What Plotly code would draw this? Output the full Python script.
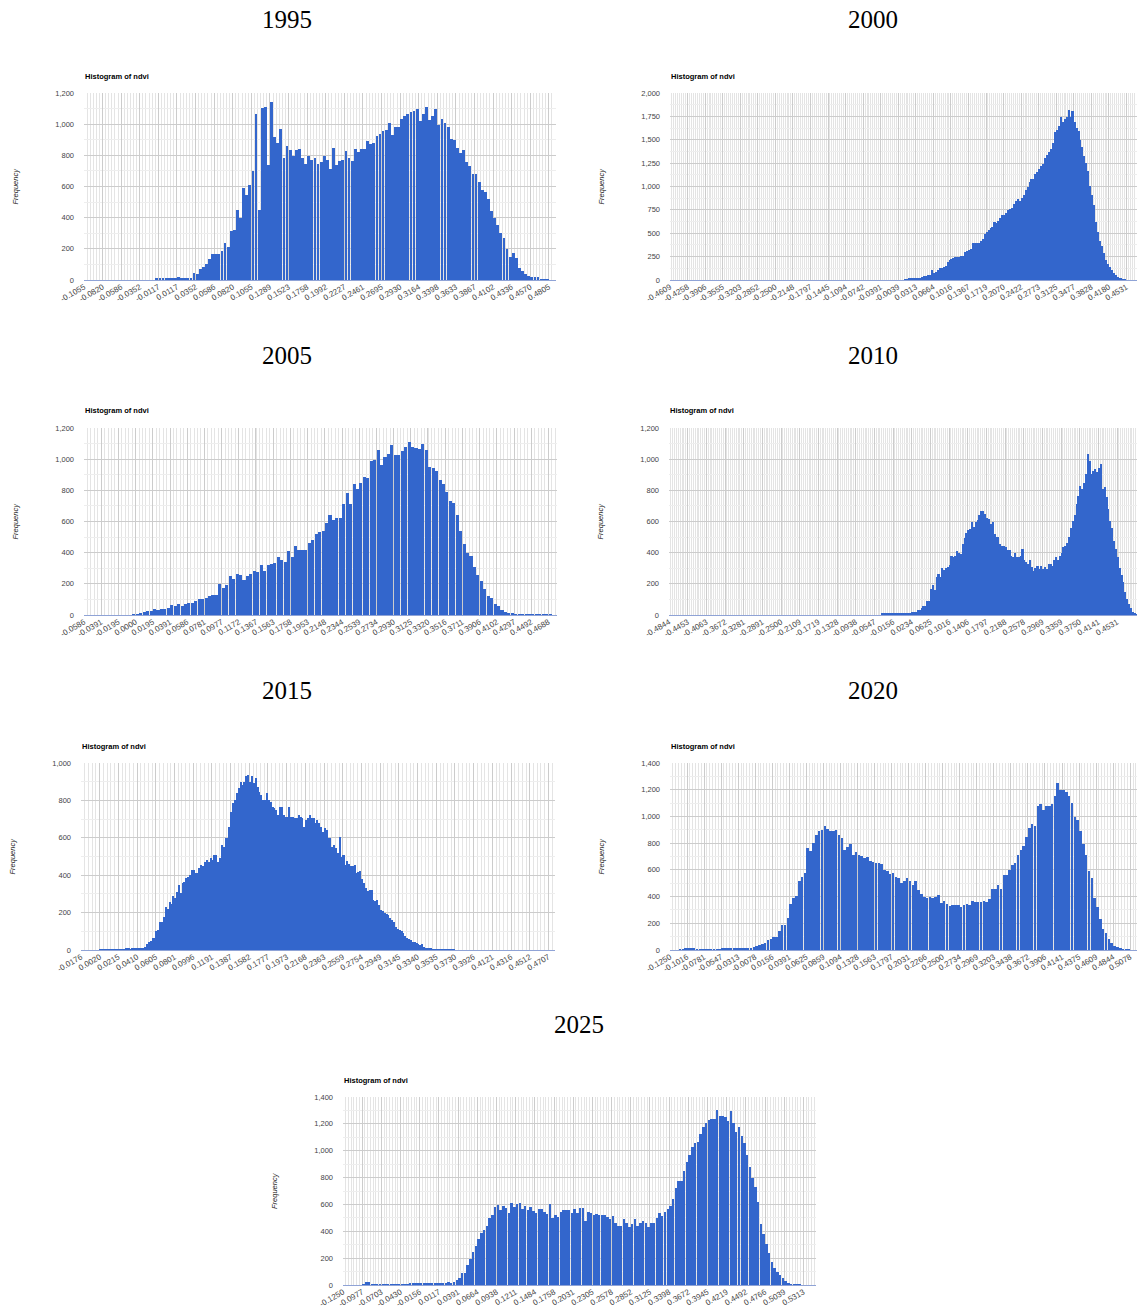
import numpy as np
import plotly.graph_objects as go

W, H = 1137, 1309

# ---------------- NDVI histograms (counts per bucket) ----------------
# Each series: left edge of its first listed bucket, bucket width, counts.

bin_width_1995 = 1 / 256
first_edge_1995 = -4 / 256
counts_1995 = [
    10, 12, 12, 11, 12, 8, 9, 18, 8, 16, 13, 15,
    45, 40, 70, 85, 100, 135, 165, 170, 165, 185,
    235, 210, 315, 320, 450, 400, 590, 545, 610, 700,
    1065, 450, 1105, 1110, 740, 1140, 920, 880, 970, 780,
    860, 835, 795, 835, 840, 780, 745, 795, 770, 780,
    745, 755, 795, 770, 715, 850, 740, 765, 770, 830,
    780, 765, 840, 820, 840, 840, 890, 870, 880, 925,
    940, 955, 960, 1005, 930, 985, 985, 1030, 1050, 1065,
    1075, 1085, 1100, 1020, 1065, 1110, 1025, 1055, 1100, 995,
    1030, 1010, 985, 905, 900, 845, 815, 835, 760, 730,
    680, 680, 630, 580, 565, 520, 440, 400, 350, 300,
    270, 200, 150, 175, 140, 75, 55, 40, 28, 20,
    18, 17, 5, 4, 2,
]
labels_1995 = ["-0.1055", "-0.0820", "-0.0586", "-0.0352", "-0.0117", "0.0117", "0.0352",
               "0.0586", "0.0820", "0.1055", "0.1289", "0.1523", "0.1758", "0.1992",
               "0.2227", "0.2461", "0.2695", "0.2930", "0.3164", "0.3398", "0.3633",
               "0.3867", "0.4102", "0.4336", "0.4570", "0.4805"]

bin_width_2000 = 1 / 256
first_edge_2000 = 2 / 256
counts_2000 = [
    8, 10, 12, 14, 14, 15, 16, 18, 22, 30, 38, 45, 50, 58, 105, 70, 90, 110, 125, 130,
    140, 155, 195, 210, 220, 240, 245, 248,
    250, 255, 260, 300, 315, 320, 330, 400, 395, 400, 395, 420, 440, 490, 510,
    530, 560, 570, 620, 610, 635, 660, 690, 690, 720, 745, 760, 770, 815, 840,
    870, 850, 880, 905, 960, 990, 1045, 1075, 1080, 1135, 1150, 1190, 1220, 1245,
    1300, 1340, 1370, 1400, 1460, 1580, 1600, 1650, 1745, 1690, 1725, 1740, 1820,
    1745, 1810, 1690, 1630, 1590, 1500, 1420, 1330, 1250, 1170, 1010, 905, 800,
    620, 510, 420, 360, 290, 210, 170, 140, 105, 75, 50, 35, 22, 14, 9, 4,
]
labels_2000 = ["-0.4609", "-0.4258", "-0.3906", "-0.3555", "-0.3203", "-0.2852", "-0.2500",
               "-0.2148", "-0.1797", "-0.1445", "-0.1094", "-0.0742", "-0.0391", "-0.0039",
               "0.0313", "0.0664", "0.1016", "0.1367", "0.1719", "0.2070", "0.2422",
               "0.2773", "0.3125", "0.3477", "0.3828", "0.4180", "0.4531"]

bin_width_2005 = 1 / 256
first_edge_2005 = -1 / 256
counts_2005 = [
    2, 5, 8,
    20, 25, 25, 40, 35, 40, 40, 45, 65, 60,
    70, 55, 70, 75, 80, 90, 100, 100, 110, 125,
    130, 130, 200, 175, 195, 250, 230, 260, 255, 225,
    250, 265, 285, 275, 320, 285, 320, 330, 335, 370,
    355, 340, 410, 370, 440, 420, 420, 415, 465, 480,
    520, 530, 540, 590, 640, 610, 620, 620, 710, 785,
    710, 840, 810, 845, 885, 880, 990, 995, 1060, 965,
    1015, 1035, 1090, 1025, 1025, 1050, 1075, 1110, 1075, 1070,
    1065, 1095, 1060, 950, 945, 925, 865, 840, 790, 730,
    720, 640, 540, 455, 400, 380, 305, 255, 220, 170,
    125, 110, 70, 55, 35, 20, 12, 8, 5, 3,
    2, 2, 2, 1, 1, 1, 1, 1, 1,
]
labels_2005 = ["-0.0586", "-0.0391", "-0.0195", "0.0000", "0.0195", "0.0391", "0.0586",
               "0.0781", "0.0977", "0.1172", "0.1367", "0.1563", "0.1758", "0.1953",
               "0.2148", "0.2344", "0.2539", "0.2734", "0.2930", "0.3125", "0.3320",
               "0.3516", "0.3711", "0.3906", "0.4102", "0.4297", "0.4492", "0.4688"]

bin_width_2010 = 1 / 256
first_edge_2010 = -10 / 256
counts_2010 = [
    8, 10, 12, 10, 9, 11, 12, 10, 8, 12, 14, 12, 10, 14, 15,
    15, 20, 22, 20, 35, 35, 45, 55, 60, 90, 90, 170, 190, 160, 245,
    260, 245, 300, 290, 300, 310, 320, 380, 370, 380, 410, 400, 390,
    455, 495, 525, 545, 550, 595, 565, 595, 610, 640, 665, 670, 650, 625, 615,
    585, 595, 520, 500, 500, 455, 445, 445, 435, 420, 415, 380, 370, 400, 370,
    370, 380, 425, 350, 340, 325, 350, 305, 285, 300, 315, 295, 315, 295, 305,
    295, 325, 330, 315, 350, 370, 350, 380, 400, 435, 445, 460, 500, 560, 605,
    640, 715, 765, 830, 810, 850, 905, 1035, 990, 905, 925, 935, 915, 945, 970,
    810, 820, 755, 680, 605, 560, 475, 425, 370, 300, 255, 210, 150, 100, 70,
    45, 22, 10, 4,
]
labels_2010 = ["-0.4844", "-0.4453", "-0.4063", "-0.3672", "-0.3281", "-0.2891", "-0.2500",
               "-0.2109", "-0.1719", "-0.1328", "-0.0938", "-0.0547", "-0.0156", "0.0234",
               "0.0625", "0.1016", "0.1406", "0.1797", "0.2188", "0.2578", "0.2969",
               "0.3359", "0.3750", "0.4141", "0.4531"]

bin_width_2015 = 1 / 512
first_edge_2015 = 1 / 512
counts_2015 = [
    2, 2, 3, 3, 3, 4, 4, 5, 4, 4, 5, 5, 4, 5, 6, 6, 5, 8, 8, 10, 12, 10, 12,
    10, 15, 30, 45, 50, 65, 65, 100, 105, 150, 150, 175, 230, 220, 255, 245, 290,
    280, 310, 345,
    303, 357, 365, 383, 392, 401, 428, 428, 410, 410, 437, 455, 449, 472, 481,
    472, 490, 481, 508, 508, 472, 490, 562, 553, 597, 597, 660, 740, 785, 802,
    838, 865, 900, 883, 900, 931, 936, 900, 931, 892, 918, 874, 847, 829, 802,
    802, 838, 802, 793, 767, 758, 749, 722, 767, 767, 722, 713, 713, 767, 713,
    713, 704, 704, 722, 713, 704, 660, 695, 704, 722, 704, 704, 677, 695, 677,
    660, 633, 651, 642, 597, 597, 553, 562, 544, 517, 606,
    500, 510, 455, 475, 460, 450, 450, 455, 410, 415, 420, 380, 360, 330, 315,
    320, 320, 270, 260, 265, 240, 215, 210, 200, 190, 185, 170, 160, 150, 125,
    110, 108, 100, 90, 75, 65, 60, 55, 45, 45, 40, 30, 25, 30, 15, 12, 10, 8, 6,
    5, 4,
    3, 3, 2, 2, 2, 2, 1, 1, 1, 1,
]
labels_2015 = ["-0.0176", "0.0020", "0.0215", "0.0410", "0.0605", "0.0801", "0.0996",
               "0.1191", "0.1387", "0.1582", "0.1777", "0.1973", "0.2168", "0.2363",
               "0.2559", "0.2754", "0.2949", "0.3145", "0.3340", "0.3535", "0.3730",
               "0.3926", "0.4121", "0.4316", "0.4512", "0.4707"]

bin_width_2020 = 1 / 256
first_edge_2020 = -29 / 256
counts_2020 = [
    5, 6, 8, 8, 10, 8, 6, 4, 3, 3, 4, 4, 5, 6, 6, 8, 8, 10, 10, 12, 12, 12, 14, 14,
    15, 15, 20, 30, 40, 45, 50, 75, 80, 100, 100, 140, 190, 190, 240,
    345, 390, 405, 515, 545, 580, 760, 740, 800, 860, 890, 900, 930, 905, 890,
    890, 895, 860, 840, 750, 770, 795, 710, 730, 710, 705, 690, 695, 670, 660,
    650, 650, 645, 600, 590, 570, 580, 550, 540, 500, 515, 540, 515, 490, 515,
    450, 420, 400, 390, 395, 390, 400, 410, 350, 365, 345, 330, 340, 340, 335,
    325, 340, 345, 340, 365, 360, 362, 360, 365, 360, 385, 460, 455, 490, 455,
    560, 565, 600, 640, 650, 715, 750, 780, 845, 915, 940, 930, 1080, 1095, 1045,
    1080, 1075, 1095, 1150, 1250, 1200, 1195, 1180, 1150, 1100, 995, 975, 890, 790, 715,
    590, 540, 390, 320, 235, 160, 130, 80, 52, 32, 20, 12, 7, 5, 3,
]
labels_2020 = ["-0.1250", "-0.1016", "-0.0781", "-0.0547", "-0.0313", "-0.0078", "0.0156",
               "0.0391", "0.0625", "0.0859", "0.1094", "0.1328", "0.1563", "0.1797",
               "0.2031", "0.2266", "0.2500", "0.2734", "0.2969", "0.3203", "0.3438",
               "0.3672", "0.3906", "0.4141", "0.4375", "0.4609", "0.4844", "0.5078"]

bin_width_2025 = 1 / 256
first_edge_2025 = -25 / 256
counts_2025 = [
    4, 20, 25, 5, 2, 1, 1, 1, 1, 1, 2, 2, 2, 3, 4, 5, 6, 8, 10, 9, 8, 8, 9, 10, 10,
    11, 12, 12, 14, 15,
    15, 20, 15, 25, 40, 55, 90, 90, 150, 190, 245, 290, 345, 390, 410,
    440, 500, 520, 580, 595, 560, 590, 570, 535, 610, 580, 600, 610, 565, 590,
    555, 580, 550, 535, 565, 565, 540, 530, 600, 500, 525, 505, 545, 560, 555,
    560, 535, 565, 535, 570, 570, 480, 545, 535, 525, 530, 520,
    525, 525, 510, 490, 515, 460, 440, 440, 495, 465, 435, 455, 490, 440, 460,
    475, 465, 435, 460, 465, 500, 535, 515, 540, 565, 585, 640, 720, 775, 775,
    850, 915, 970, 1025, 1055, 1065, 1125, 1175, 1205, 1230, 1235, 1235, 1305, 1260, 1260,
    1250, 1220, 1295, 1205, 1140, 1180, 1110, 1055, 965, 880, 800, 730, 615, 455, 380,
    305, 235, 175, 130, 95, 75, 50, 27, 15, 7, 5, 3, 2,
]
labels_2025 = ["-0.1250", "-0.0977", "-0.0703", "-0.0430", "-0.0156", "0.0117", "0.0391",
               "0.0664", "0.0938", "0.1211", "0.1484", "0.1758", "0.2031", "0.2305",
               "0.2578", "0.2852", "0.3125", "0.3398", "0.3672", "0.3945", "0.4219",
               "0.4492", "0.4766", "0.5039", "0.5313"]

years = ["1995", "2000", "2005", "2010", "2015", "2020", "2025"]

# ---------------- panel geometry (pixels) ----------------
# box = (left, right, top, bottom) of the plotting area; span = buckets shown across it
panels = [
    dict(counts=counts_1995, edge=first_edge_1995, bw=bin_width_1995, labels=labels_1995,
         ymax=1200, ystep=200, box=(84, 556, 93, 280), span=152.3, title_x=287),
    dict(counts=counts_2000, edge=first_edge_2000, bw=bin_width_2000, labels=labels_2000,
         ymax=2000, ystep=250, box=(670, 1137, 93, 280), span=239.4, title_x=873),
    dict(counts=counts_2005, edge=first_edge_2005, bw=bin_width_2005, labels=labels_2005,
         ymax=1200, ystep=200, box=(84, 557, 428, 615), span=137.5, title_x=287),
    dict(counts=counts_2010, edge=first_edge_2010, bw=bin_width_2010, labels=labels_2010,
         ymax=1200, ystep=200, box=(669, 1137, 428, 615), span=250.7, title_x=873),
    dict(counts=counts_2015, edge=first_edge_2015, bw=bin_width_2015, labels=labels_2015,
         ymax=1000, ystep=200, box=(81, 555, 763, 950), span=253.5, title_x=287),
    dict(counts=counts_2020, edge=first_edge_2020, bw=bin_width_2020, labels=labels_2020,
         ymax=1400, ystep=200, box=(670, 1137, 763, 950), span=164.4, title_x=873),
    dict(counts=counts_2025, edge=first_edge_2025, bw=bin_width_2025, labels=labels_2025,
         ymax=1400, ystep=200, box=(343, 816, 1097, 1285), span=172.6, title_x=579),
]

SANS = "Liberation Sans, Arial, sans-serif"
SERIF = "Liberation Serif, Times New Roman, serif"

fig = go.Figure()
annotations = []
layout_axes = {}

for k, (year, p) in enumerate(zip(years, panels), start=1):
    sfx = "" if k == 1 else str(k)
    bw = p["bw"]
    counts = np.array(p["counts"], dtype=float)
    centers = p["edge"] + bw * (np.arange(len(counts)) + 0.5)

    fig.add_trace(go.Bar(
        x=centers, y=counts, width=bw * 0.9,
        marker=dict(color="#3366cc", line=dict(width=0)),
        xaxis="x" + sfx, yaxis="y" + sfx,
        showlegend=False, hoverinfo="skip",
    ))

    x0, x1, y0, y1 = p["box"]
    tickvals = [float(s) for s in p["labels"]]
    lo = tickvals[0]
    hi = lo + p["span"] * bw

    layout_axes["xaxis" + sfx] = dict(
        domain=[x0 / W, x1 / W], range=[lo, hi], anchor="y" + sfx,
        automargin=False,
        tickmode="array", tickvals=tickvals, ticktext=p["labels"],
        tickangle=-30, tickfont=dict(family=SANS, size=8, color="#444444"),
        ticks="", ticklabelstandoff=0,
        showgrid=True, gridcolor="#cccccc", gridwidth=1,
        minor=dict(tick0=lo, dtick=1 / 256, showgrid=True, gridcolor="#e4e4e4", gridwidth=1),
        zeroline=False, showline=False, fixedrange=True,
    )
    layout_axes["yaxis" + sfx] = dict(
        domain=[1 - y1 / H, 1 - y0 / H], range=[0, p["ymax"]], anchor="x" + sfx,
        automargin=False,
        tickmode="linear", tick0=0, dtick=p["ystep"], tickformat=",d",
        tickfont=dict(family=SANS, size=7.5, color="#444444"),
        ticks="", ticklabelstandoff=9,
        showgrid=True, gridcolor="#cccccc", gridwidth=1,
        minor=dict(dtick=p["ystep"] / 2, showgrid=True, gridcolor="#eeeeee", gridwidth=1),
        zeroline=True, zerolinecolor="#8fa3d6", zerolinewidth=1,
        showline=False, fixedrange=True,
    )

    # year heading
    annotations.append(dict(
        text=year, x=p["title_x"] / W, y=1 - (y0 - 73) / H, xref="paper", yref="paper",
        xanchor="center", yanchor="middle", showarrow=False,
        font=dict(family=SERIF, size=25, color="#000000"),
    ))
    # chart caption
    annotations.append(dict(
        text="<b>Histogram of ndvi</b>", x=(x0 - 1) / W, y=1 - (y0 - 17) / H,
        xref="paper", yref="paper", xanchor="left", yanchor="middle", showarrow=False,
        font=dict(family=SANS, size=7.5, color="#000000"),
    ))
    # vertical axis title
    annotations.append(dict(
        text="<i>Frequency</i>", x=(x0 - 69) / W, y=1 - ((y0 + y1) / 2) / H,
        xref="paper", yref="paper", xanchor="center", yanchor="middle", showarrow=False,
        textangle=-90, font=dict(family=SANS, size=7.5, color="#222222"),
    ))

fig.update_layout(
    width=W, height=H,
    margin=dict(l=0, r=0, t=0, b=0),
    paper_bgcolor="#ffffff", plot_bgcolor="#ffffff",
    bargap=0, annotations=annotations,
    **layout_axes,
)

fig.write_html("out.html")
